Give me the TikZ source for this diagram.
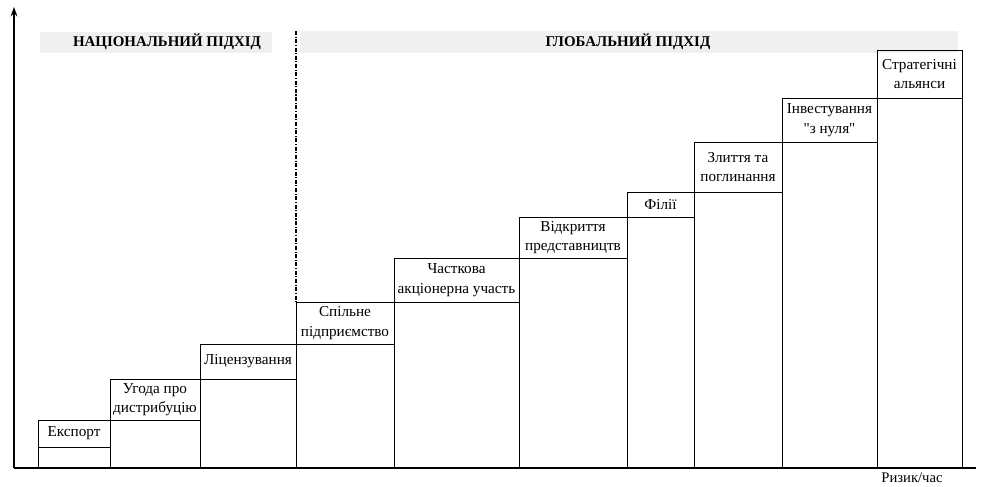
\documentclass[tikz,border=0pt]{standalone}
\usepackage{fontspec}
\setmainfont{Liberation Serif}[Ligatures=TeXOff]
\usetikzlibrary{arrows.meta}
\newcommand\stepcells[6]{%
  \node[cell, minimum width={(#3-#2)*0.75pt}, minimum height={(#5-#4)*0.75pt}]
    (#1) at ({(#2+#3)/2},{(#4+#5)/2}) {#6};
  \node[cell, minimum width={(#3-#2)*0.75pt}, minimum height={(468-#5)*0.75pt}]
    (#1b) at ({(#2+#3)/2},{(#5+468)/2}) {};
}
\begin{document}
\begin{tikzpicture}[x=0.75pt,y=-0.75pt,
  cell/.style={draw, line width=0.75pt, inner sep=0pt, outer sep=0pt, align=center,
    font=\fontsize{11.4}{14.5}\selectfont},
  axis/.style={line width=1.5pt},
  band/.style={fill=black!6, draw=none},
  heading/.style={font=\bfseries\fontsize{11.2}{13}\selectfont},
  divider/.style={line width=0.9pt, dash pattern=on 3pt off 1.2pt on 0.8pt off 1.2pt}]
\useasboundingbox (0,0) rectangle (991,486);
% background bands
\fill[band] (40,32) rectangle (272,53);
\fill[band] (300,31) rectangle (958,53);
% headings
\node[heading] (nat) at (167,42) {НАЦІОНАЛЬНИЙ ПІДХІД};
\node[heading] (glob) at (628,42) {ГЛОБАЛЬНИЙ ПІДХІД};
% steps
\stepcells{exp}{38}{110}{420}{447}{Експорт}
\stepcells{dist}{110}{200}{379}{420}{Угода про\\дистрибуцію}
\stepcells{lic}{200}{296}{344}{379}{Ліцензування}
\stepcells{jv}{296}{394}{302}{344}{Спільне\\підприємство}
\stepcells{part}{394}{519}{258}{302}{Часткова\\акціонерна участь}
\stepcells{rep}{519}{627}{217}{258}{Відкриття\\представництв}
\stepcells{fil}{627}{694}{192}{217}{Філії}
\stepcells{ma}{694}{782}{142}{192}{Злиття та\\поглинання}
\stepcells{inv}{782}{877}{98}{142}{Інвестування\\"з нуля"}
\stepcells{sa}{877}{962}{50}{98}{Стратегічні\\альянси}
% dash-dot divider
\coordinate (ddtop) at (296,31);
\draw[divider] (ddtop) -- (jv.north west);
% axes
\coordinate (o) at (14,468);
\coordinate (ytop) at (14,7);
\coordinate (xend) at (976,468);
\draw[axis, -{Stealth[length=7pt,width=5pt]}] (o) -- (ytop);
\draw[axis] (o) -- (xend);
\node[font=\fontsize{11}{12}\selectfont, inner sep=1pt] (risk) at (912,478) {Ризик/час};
\end{tikzpicture}
\end{document}
